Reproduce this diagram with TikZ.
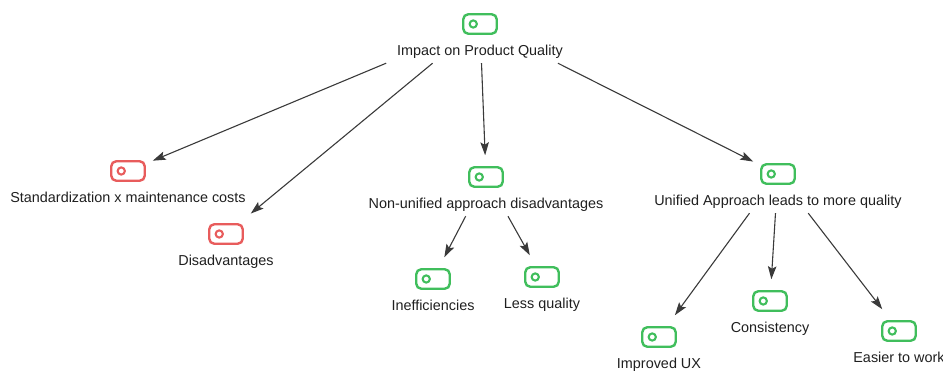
\documentclass[tikz,border=0pt]{standalone}
\usepackage{fontspec}
\setmainfont{Liberation Sans}
\usetikzlibrary{arrows.meta}

\definecolor{okgreen}{RGB}{64,190,92}
\definecolor{badred}{RGB}{232,92,92}
\definecolor{linkgray}{RGB}{58,58,58}

\tikzset{
  topic/.style={draw=#1, line width=2.4pt, rounded corners=5pt,
    minimum width=33.5pt, minimum height=19.5pt, inner sep=0pt,
    outer xsep=8pt, outer ysep=12pt,
    path picture={\draw[#1, line width=2.1pt]
      ([xshift=10pt]path picture bounding box.west) circle (3.6pt);}},
  caption/.style={anchor=base, inner sep=0pt, text depth=8pt,
    font=\fontsize{14.4}{17}\selectfont, text=black!88},
  link/.style={draw=linkgray, line width=1.1pt,
    -{Stealth[length=13pt, width=8.5pt, inset=2.5pt]}},
}

% arrow from the bottom of a caption to the next topic
\newcommand\link[2]{\draw[link] (intersection of #1--#2 and #1lbl.south west--#1lbl.south east) -- (#2);}

\begin{document}
\begin{tikzpicture}[x=1pt, y=-1pt]
    \useasboundingbox (0,0) rectangle (943,372);

    % topics
    \node[topic=okgreen] (impact) at (480,24) {};
    \node[topic=badred] (stdcost) at (128,171) {};
    \node[topic=badred] (disadv) at (226,234) {};
    \node[topic=okgreen] (nonunif) at (486,177) {};
    \node[topic=okgreen] (ineff) at (433,279) {};
    \node[topic=okgreen] (lessq) at (542,277) {};
    \node[topic=okgreen] (unified) at (778,174) {};
    \node[topic=okgreen] (ux) at (659,337) {};
    \node[topic=okgreen] (consist) at (770,301) {};
    \node[topic=okgreen] (easier) at (899,331) {};

    % captions
    \node[caption] (impactlbl) at ([yshift=-31pt]impact) {Impact on Product Quality};
    \node[caption] (stdcostlbl) at ([yshift=-31pt]stdcost) {Standardization x maintenance costs};
    \node[caption] (disadvlbl) at ([yshift=-31pt]disadv) {Disadvantages};
    \node[caption] (nonuniflbl) at ([yshift=-31pt]nonunif) {Non-unified approach disadvantages};
    \node[caption] (innefflbl) at ([yshift=-31pt]ineff) {Inefficiencies};
    \node[caption] (lessqlbl) at ([yshift=-31pt]lessq) {Less quality};
    \node[caption] (unifiedlbl) at ([yshift=-31pt]unified) {Unified Approach leads to more quality};
    \node[caption] (uxlbl) at ([yshift=-31pt]ux) {Improved UX};
    \node[caption] (consistlbl) at ([yshift=-31pt]consist) {Consistency};
    \node[caption] (easierlbl) at ([yshift=-31pt]easier) {Easier to work};

    % links
    \link{impact}{stdcost}
    \link{impact}{disadv}
    \link{impact}{nonunif}
    \link{impact}{unified}
    \link{nonunif}{ineff}
    \link{nonunif}{lessq}
    \link{unified}{ux}
    \link{unified}{consist}
    \link{unified}{easier}
\end{tikzpicture}
\end{document}
